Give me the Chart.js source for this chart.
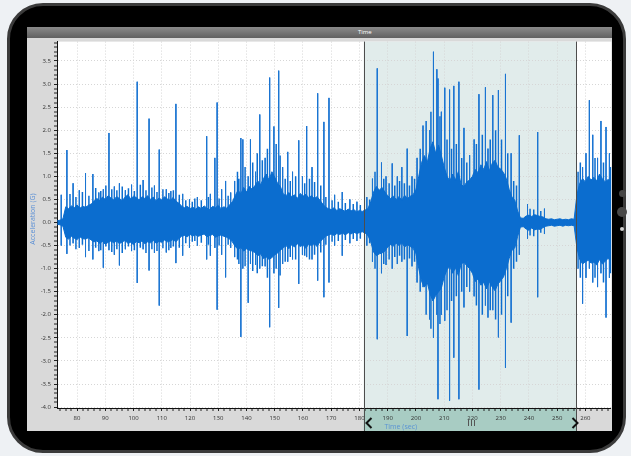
<!DOCTYPE html>
<html>
<head>
<meta charset="utf-8">
<script src="https://cdn.jsdelivr.net/npm/chart.js@4.4.0/dist/chart.umd.min.js"></script>
<style>
html, body { margin: 0; padding: 0; }
body { width: 631px; height: 456px; background: #eef1f4; position: relative; overflow: hidden; font-family: "Open Sans", sans-serif; }
#frame { position: absolute; left: 7px; top: 3px; width: 619px; height: 450px; box-sizing: border-box; background: #000; border: 3px solid #3b3b3b; border-radius: 36px; }
.btn { position: absolute; border-radius: 50%; }
#screen { position: absolute; left: 27px; top: 27px; width: 585px; height: 404px; background: #d9d9d9; overflow: hidden; }
#titlebar { position: absolute; left: 0; top: 0; width: 585px; height: 11px; background: linear-gradient(#8a8a8a, #606060); }
#titlebar span { position: absolute; left: 331px; top: 1px; color: #fff; font-size: 6px; line-height: 9px; }
#plot { position: absolute; left: 0; top: 11px; width: 585px; height: 393px; }
</style>
</head>
<body>
<div id="frame"></div>
<div class="btn" style="left:619px;top:190px;width:7px;height:7px;background:#454545"></div>
<div class="btn" style="left:617px;top:207px;width:10px;height:10px;background:#484848"></div>
<div class="btn" style="left:620px;top:227px;width:4px;height:4px;background:#d0d0d0"></div>
<div id="screen">
  <div id="titlebar"><span>Time</span></div>
  <div id="plot"><canvas id="accelChart"></canvas></div>
</div>
<script>
// axis ranges and labelled ticks
const xMin = 72.9, xMax = 269.2;
const yMin = -4.02, yMax = 3.92;
const xTickLabels = [80, 90, 100, 110, 120, 130, 140, 150, 160, 170, 180, 190, 200, 210, 220, 230, 240, 250, 260];
const yTickLabels = [3.5, 3.0, 2.5, 2.0, 1.5, 1.0, 0.5, 0.0, -0.5, -1.0, -1.5, -2.0, -2.5, -3.0, -3.5, -4.0];

// selected time window (sec)
const selStart = 181.5, selEnd = 256.7;

// envelope of the dense signal body, one value per second from bodyStart
const bodyStart = 73;
const bodyUpper = [
    0.04, 0.05, 0.08, 0.34, 0.30, 0.36, 0.32, 0.38, 0.31, 0.35,
    0.33, 0.37, 0.40, 0.46, 0.52, 0.48, 0.55, 0.50, 0.58, 0.53,
    0.49, 0.56, 0.52, 0.47, 0.55, 0.60, 0.51, 0.57, 0.54, 0.49,
    0.56, 0.52, 0.58, 0.50, 0.55, 0.47, 0.53, 0.49, 0.56, 0.51,
    0.48, 0.54, 0.46, 0.42, 0.36, 0.32, 0.35, 0.30, 0.33, 0.29,
    0.34, 0.30, 0.36, 0.31, 0.28, 0.35, 0.32, 0.37, 0.30, 0.34,
    0.31, 0.38, 0.45, 0.58, 0.70, 0.62, 0.76, 0.66, 0.78, 0.72,
    0.80, 0.90, 0.82, 0.95, 1.05, 0.92, 1.10, 0.98, 0.85, 0.78,
    0.62, 0.58, 0.65, 0.55, 0.60, 0.52, 0.63, 0.57, 0.61, 0.54,
    0.58, 0.52, 0.56, 0.48, 0.40, 0.33, 0.30, 0.28, 0.32, 0.26,
    0.30, 0.27, 0.24, 0.29, 0.25, 0.28, 0.23, 0.26, 0.24, 0.27,
    0.30, 0.45, 0.66, 0.78, 0.70, 0.76, 0.66, 0.58, 0.52, 0.57,
    0.50, 0.56, 0.48, 0.59, 0.52, 0.57, 0.60, 0.72, 1.00, 1.30,
    1.45, 1.30, 1.60, 1.75, 1.50, 1.68, 1.45, 1.20, 1.00, 0.90,
    1.05, 0.92, 1.10, 0.82, 0.78, 0.88, 0.92, 1.00, 1.15, 1.08,
    1.25, 1.15, 1.32, 1.12, 1.28, 1.35, 1.20, 1.16, 1.08, 0.95,
    0.72, 0.55, 0.48, 0.25, 0.10, 0.09, 0.14, 0.16, 0.13, 0.17,
    0.15, 0.13, 0.12, 0.08, 0.07, 0.08, 0.06, 0.07, 0.08, 0.06,
    0.07, 0.06, 0.08, 0.07, 0.60, 0.85, 0.95, 0.88, 1.00, 0.92,
    0.98, 0.90, 1.05, 0.95, 0.88, 0.93, 0.90
];
const bodyLower = [
    -0.04, -0.05, -0.08, -0.32, -0.36, -0.30, -0.34, -0.37, -0.31, -0.35,
    -0.36, -0.33, -0.38, -0.42, -0.40, -0.45, -0.41, -0.47, -0.43, -0.40,
    -0.44, -0.40, -0.46, -0.42, -0.39, -0.45, -0.43, -0.48, -0.41, -0.44,
    -0.40, -0.46, -0.42, -0.44, -0.39, -0.45, -0.41, -0.43, -0.38, -0.42,
    -0.40, -0.37, -0.42, -0.35, -0.30, -0.28, -0.31, -0.26, -0.29, -0.27,
    -0.30, -0.27, -0.25, -0.31, -0.28, -0.26, -0.32, -0.29, -0.27, -0.30,
    -0.32, -0.36, -0.42, -0.52, -0.58, -0.54, -0.62, -0.57, -0.60, -0.62,
    -0.65, -0.72, -0.68, -0.78, -0.75, -0.80, -0.76, -0.70, -0.66, -0.60,
    -0.55, -0.50, -0.57, -0.48, -0.53, -0.46, -0.52, -0.49, -0.56, -0.47,
    -0.50, -0.46, -0.52, -0.42, -0.36, -0.30, -0.27, -0.25, -0.28, -0.24,
    -0.26, -0.23, -0.27, -0.22, -0.25, -0.21, -0.24, -0.22, -0.20, -0.23,
    -0.28, -0.42, -0.64, -0.72, -0.68, -0.66, -0.62, -0.53, -0.48, -0.51,
    -0.45, -0.50, -0.44, -0.53, -0.48, -0.52, -0.56, -0.68, -1.00, -1.28,
    -1.40, -1.30, -1.55, -1.70, -1.58, -1.50, -1.42, -1.18, -1.02, -0.95,
    -1.10, -0.98, -1.15, -0.90, -0.86, -0.94, -1.00, -1.10, -1.28, -1.22,
    -1.36, -1.30, -1.44, -1.28, -1.40, -1.48, -1.34, -1.26, -1.18, -1.00,
    -0.78, -0.60, -0.55, -0.30, -0.10, -0.09, -0.14, -0.17, -0.12, -0.16,
    -0.14, -0.15, -0.11, -0.08, -0.07, -0.06, -0.08, -0.07, -0.06, -0.08,
    -0.06, -0.07, -0.06, -0.07, -0.55, -0.80, -0.90, -0.85, -0.82, -0.88,
    -0.86, -0.92, -0.80, -0.90, -0.84, -0.78, -0.82
];

// tall isolated peaks
const spikeTimes = [
    74.4, 76.4, 78.6, 80.8, 83.0, 85.6, 87.7, 89.3, 91.3, 93.2,
    95.0, 97.1, 99.3, 101.3, 103.4, 105.5, 107.4, 109.1, 111.6, 113.2,
    115.0, 117.4, 119.8, 122.6, 125.9, 127.2, 128.8, 129.6, 131.2, 132.6,
    134.4, 135.8, 138.0, 138.7, 140.6, 141.4, 143.2, 144.7, 146.6, 148.2,
    149.7, 151.4, 152.8, 154.6, 156.3, 158.5, 159.8, 161.3, 163.2, 165.2,
    167.4, 169.2, 171.2, 173.9, 176.6, 179.1, 182.6, 184.6, 186.3, 187.8,
    189.4, 191.6, 193.4, 195.0, 196.9, 198.6, 200.4, 202.5, 204.8, 206.2,
    207.4, 207.8, 209.0, 210.2, 211.9, 213.4, 215.2, 217.0, 219.0, 220.6,
    222.3, 224.6, 225.5, 227.2, 229.2, 231.7, 233.7, 236.6, 239.5, 243.1,
    245.5, 259.0, 260.2, 261.4, 262.6, 264.3, 265.5, 267.3, 268.5
];
const spikeHigh = [
    0.60, 1.57, 0.85, 0.70, 1.07, 1.05, 0.65, 0.72, 1.94, 0.78,
    0.85, 0.70, 0.82, 3.05, 0.92, 2.25, 0.80, 1.58, 0.72, 0.68,
    2.57, 0.62, 0.50, 0.55, 1.87, 0.62, 1.40, 2.60, 0.72, 0.90,
    0.65, 0.90, 1.83, 1.80, 1.00, 1.80, 1.10, 2.34, 1.40, 3.14,
    2.08, 3.29, 1.20, 1.53, 1.10, 1.78, 1.00, 2.09, 1.20, 2.80,
    2.18, 2.70, 0.60, 0.66, 0.50, 0.45, 0.55, 0.95, 3.34, 1.30,
    1.00, 1.28, 1.00, 1.20, 1.60, 1.00, 1.40, 2.10, 2.00, 3.70,
    3.32, 3.12, 2.40, 2.92, 2.88, 2.96, 3.05, 2.05, 1.46, 1.80,
    2.78, 2.93, 1.60, 2.76, 2.87, 3.22, 1.50, 1.89, 0.40, 1.96,
    0.30, 1.20, 1.50, 2.65, 1.90, 1.40, 2.20, 2.07, 1.50
];
const spikeLow = [
    -0.50, -0.68, -0.45, -0.55, -0.75, -0.80, -0.62, -0.98, -0.60, -0.70,
    -0.93, -0.58, -0.62, -1.31, -0.58, -1.04, -0.66, -1.80, -0.65, -0.55,
    -0.88, -0.72, -0.55, -0.50, -0.80, -0.72, -0.55, -1.89, -0.70, -1.19,
    -0.55, -0.75, -2.48, -1.00, -1.74, -0.90, -0.92, -1.00, -0.95, -2.27,
    -1.10, -1.85, -0.90, -0.85, -0.80, -1.33, -0.70, -0.75, -0.80, -1.26,
    -1.62, -1.30, -0.50, -0.72, -0.45, -0.40, -0.50, -0.85, -2.53, -1.10,
    -0.92, -1.00, -0.90, -0.85, -2.46, -0.95, -1.30, -1.40, -2.10, -2.50,
    -2.00, -3.83, -2.00, -2.13, -3.86, -2.93, -3.83, -1.84, -1.50, -1.60,
    -3.62, -1.80, -2.06, -1.90, -2.49, -3.15, -2.17, -0.70, -0.35, -1.62,
    -0.25, -1.76, -1.20, -1.00, -1.30, -1.40, -1.10, -2.06, -1.20
];

// shorter bursts that make the ragged edge of the body
const burstTimes = [
    77.5, 79.6, 81.9, 84.2, 86.6, 88.4, 90.2, 92.3, 94.1, 96.0,
    98.2, 100.3, 102.4, 104.4, 106.5, 108.3, 110.4, 112.5, 114.1, 116.2,
    118.5, 120.8, 121.7, 124.0, 126.5, 130.3, 133.5, 136.8, 137.3, 139.5,
    142.2, 143.8, 145.6, 147.4, 150.5, 151.9, 153.7, 155.5, 157.4, 160.6,
    162.3, 164.1, 166.3, 168.1, 170.3, 172.5, 175.0, 177.8, 180.3, 183.6,
    185.5, 188.6, 190.5, 192.5, 194.2, 195.9, 197.7, 199.5, 201.5, 203.6,
    205.3, 208.5, 211.0, 212.6, 214.3, 216.2, 218.0, 221.4, 223.5, 226.3,
    228.2, 230.3, 232.5, 234.6, 235.6, 240.4, 241.7, 244.2, 257.4, 258.2,
    263.4, 266.4, 268.9
];
const burstHigh = [
    0.62, 0.55, 0.66, 0.58, 0.75, 0.68, 0.80, 0.72, 0.70, 0.78,
    0.74, 0.68, 0.82, 0.70, 0.76, 0.66, 0.72, 0.64, 0.70, 0.60,
    0.48, 0.45, 0.52, 0.48, 0.55, 0.52, 0.58, 1.10, 0.95, 1.20,
    1.30, 1.50, 1.35, 1.60, 1.70, 1.45, 0.95, 0.90, 1.00, 0.85,
    0.95, 0.88, 0.80, 0.55, 0.48, 0.45, 0.42, 0.40, 0.38, 0.50,
    1.10, 0.95, 0.85, 0.80, 0.90, 0.85, 0.80, 0.95, 1.60, 2.20,
    2.40, 2.30, 1.80, 1.60, 1.70, 1.40, 1.30, 1.70, 1.90, 1.80,
    2.00, 1.80, 1.50, 0.90, 0.80, 0.30, 0.28, 0.25, 1.10, 1.30,
    1.40, 1.30, 1.20
];
const burstLow = [
    -0.50, -0.58, -0.48, -0.62, -0.55, -0.60, -0.52, -0.64, -0.58, -0.66,
    -0.52, -0.60, -0.55, -0.66, -0.58, -0.62, -0.56, -0.60, -0.52, -0.55,
    -0.45, -0.42, -0.40, -0.44, -0.48, -0.50, -0.48, -0.80, -0.90, -0.95,
    -1.05, -1.10, -0.95, -1.20, -1.00, -1.15, -0.85, -0.75, -0.80, -0.72,
    -0.80, -0.70, -0.65, -0.48, -0.42, -0.40, -0.38, -0.36, -0.35, -0.45,
    -1.00, -0.90, -0.80, -0.75, -0.72, -0.80, -0.78, -0.85, -1.50, -2.00,
    -2.30, -2.20, -1.90, -1.70, -1.60, -1.50, -1.40, -1.80, -2.00, -1.90,
    -2.10, -2.00, -1.60, -1.00, -0.85, -0.28, -0.30, -0.22, -1.00, -1.20,
    -1.20, -1.30, -1.10
];

const signalBlue = '#0b6dcf';
const spikeBlue = '#1a74d2';

const upperPoints = bodyUpper.map((v, i) => ({ x: bodyStart + i, y: v }));
const lowerPoints = bodyLower.map((v, i) => ({ x: bodyStart + i, y: v }));

function verticalStrokes(times, highs, lows) {
    const pts = [];
    times.forEach((t, i) => {
        pts.push({ x: t, y: highs[i] }, { x: t, y: lows[i] }, { x: t, y: null });
    });
    return pts;
}

function isMajorX(v) {
    return xTickLabels.some(t => Math.abs(t - v) < 1e-6);
}
function isMajorY(v) {
    return yTickLabels.some(t => Math.abs(t - v) < 1e-6);
}

const xTickFont = { family: 'Open Sans', size: 6 };
const yTickFont = { family: 'Open Sans', size: 6, lineHeight: 0.2 };

// plot background, selection shading and the handles of the time window
const selectionPlugin = {
    id: 'selection',
    beforeDraw(chart) {
        const { ctx, chartArea: a, scales: { x } } = chart;
        const x0 = x.getPixelForValue(selStart);
        const x1 = x.getPixelForValue(selEnd);
        ctx.save();
        ctx.fillStyle = '#ffffff';
        ctx.fillRect(a.left, a.top, a.width, a.height);
        ctx.fillStyle = '#e1eceb';
        ctx.fillRect(x0, a.top, x1 - x0, a.height);
        ctx.fillStyle = '#a8ccc3';
        ctx.fillRect(x0, a.bottom, x1 - x0, chart.height - a.bottom);
        ctx.restore();
    },
    afterDatasetsDraw(chart) {
        const { ctx, chartArea: a, scales: { x } } = chart;
        const x0 = Math.round(x.getPixelForValue(selStart)) + 0.5;
        const x1 = Math.round(x.getPixelForValue(selEnd)) + 0.5;
        const midY = a.bottom + 15;
        ctx.save();
        ctx.strokeStyle = '#4d4d4d';
        ctx.lineWidth = 1;
        ctx.beginPath();
        ctx.moveTo(x0, a.top); ctx.lineTo(x0, chart.height);
        ctx.moveTo(x1, a.top); ctx.lineTo(x1, chart.height);
        ctx.stroke();

        // chevrons
        ctx.strokeStyle = '#111';
        ctx.lineWidth = 2;
        ctx.beginPath();
        ctx.moveTo(x0 + 7, midY - 5); ctx.lineTo(x0 + 2, midY); ctx.lineTo(x0 + 7, midY + 5);
        ctx.moveTo(x1 - 4, midY - 5); ctx.lineTo(x1 + 1, midY); ctx.lineTo(x1 - 4, midY + 5);
        ctx.stroke();

        // grip
        const gx = Math.round((x0 + x1) / 2) + 0.5;
        ctx.strokeStyle = '#555';
        ctx.lineWidth = 1;
        ctx.beginPath();
        [-3, 0, 3].forEach(d => {
            ctx.moveTo(gx + d, midY - 3); ctx.lineTo(gx + d, midY + 3);
        });
        ctx.stroke();

        ctx.fillStyle = '#5a93d4';
        ctx.font = '7px "Open Sans"';
        ctx.textBaseline = 'middle';
        ctx.textAlign = 'left';
        ctx.fillText('Time (sec)', x0 + 20, a.bottom + 19);

        // y axis title
        ctx.translate(6, 181);
        ctx.rotate(-Math.PI / 2);
        ctx.textAlign = 'center';
        ctx.fillStyle = '#5a8fd5';
        ctx.fillText('Acceleration (G)', 0, 0);
        ctx.restore();
    }
};

const ctx = document.getElementById('accelChart').getContext('2d');
const accelChart = new Chart(ctx, {
    type: 'line',
    data: {
        datasets: [
            {
                label: 'Acceleration upper',
                data: upperPoints,
                borderColor: signalBlue,
                backgroundColor: signalBlue,
                borderWidth: 1,
                pointRadius: 0,
                fill: '+1'
            },
            {
                label: 'Acceleration lower',
                data: lowerPoints,
                borderColor: signalBlue,
                borderWidth: 1,
                pointRadius: 0,
                fill: false
            },
            {
                label: 'Bursts',
                data: verticalStrokes(burstTimes, burstHigh, burstLow),
                borderColor: signalBlue,
                borderWidth: 1.5,
                pointRadius: 0,
                spanGaps: false,
                fill: false
            },
            {
                label: 'Peaks',
                data: verticalStrokes(spikeTimes, spikeHigh, spikeLow),
                borderColor: spikeBlue,
                borderWidth: 1,
                pointRadius: 0,
                spanGaps: false,
                fill: false
            }
        ]
    },
    options: {
        responsive: true,
        maintainAspectRatio: false,
        animation: false,
        layout: { padding: 0 },
        plugins: {
            legend: { display: false },
            tooltip: { enabled: false }
        },
        scales: {
            x: {
                type: 'linear',
                min: xMin,
                max: xMax,
                afterBuildTicks: scale => {
                    const ticks = [];
                    for (let v = 74; v <= 268; v += 2) ticks.push({ value: v });
                    scale.ticks = ticks;
                },
                afterFit: scale => { scale.height = 23; },
                ticks: {
                    autoSkip: false,
                    maxRotation: 0,
                    minRotation: 0,
                    padding: 4,
                    color: '#333',
                    font: xTickFont,
                    callback: v => isMajorX(v) ? String(v) : ''
                },
                grid: {
                    color: '#d6d6d6',
                    lineWidth: c => (c.tick && isMajorX(c.tick.value)) ? 1 : 0,
                    tickLength: 3,
                    tickWidth: 1,
                    tickColor: '#222'
                },
                border: { color: '#111', width: 1, dash: [1, 2] }
            },
            y: {
                type: 'linear',
                min: yMin,
                max: yMax,
                afterBuildTicks: scale => {
                    const ticks = [];
                    for (let k = -40; k <= 39; k++) ticks.push({ value: k / 10 });
                    scale.ticks = ticks;
                },
                afterFit: scale => { scale.width = 30; },
                ticks: {
                    autoSkip: false,
                    padding: 3,
                    color: '#333',
                    font: yTickFont,
                    callback: v => isMajorY(v) ? v.toFixed(1) : ''
                },
                grid: {
                    color: '#d6d6d6',
                    lineWidth: c => (c.tick && isMajorY(c.tick.value)) ? 1 : 0,
                    tickLength: 3,
                    tickWidth: 1,
                    tickColor: '#222'
                },
                border: { color: '#111', width: 1, dash: [1, 2] }
            }
        }
    },
    plugins: [selectionPlugin]
});
</script>
</body>
</html>
